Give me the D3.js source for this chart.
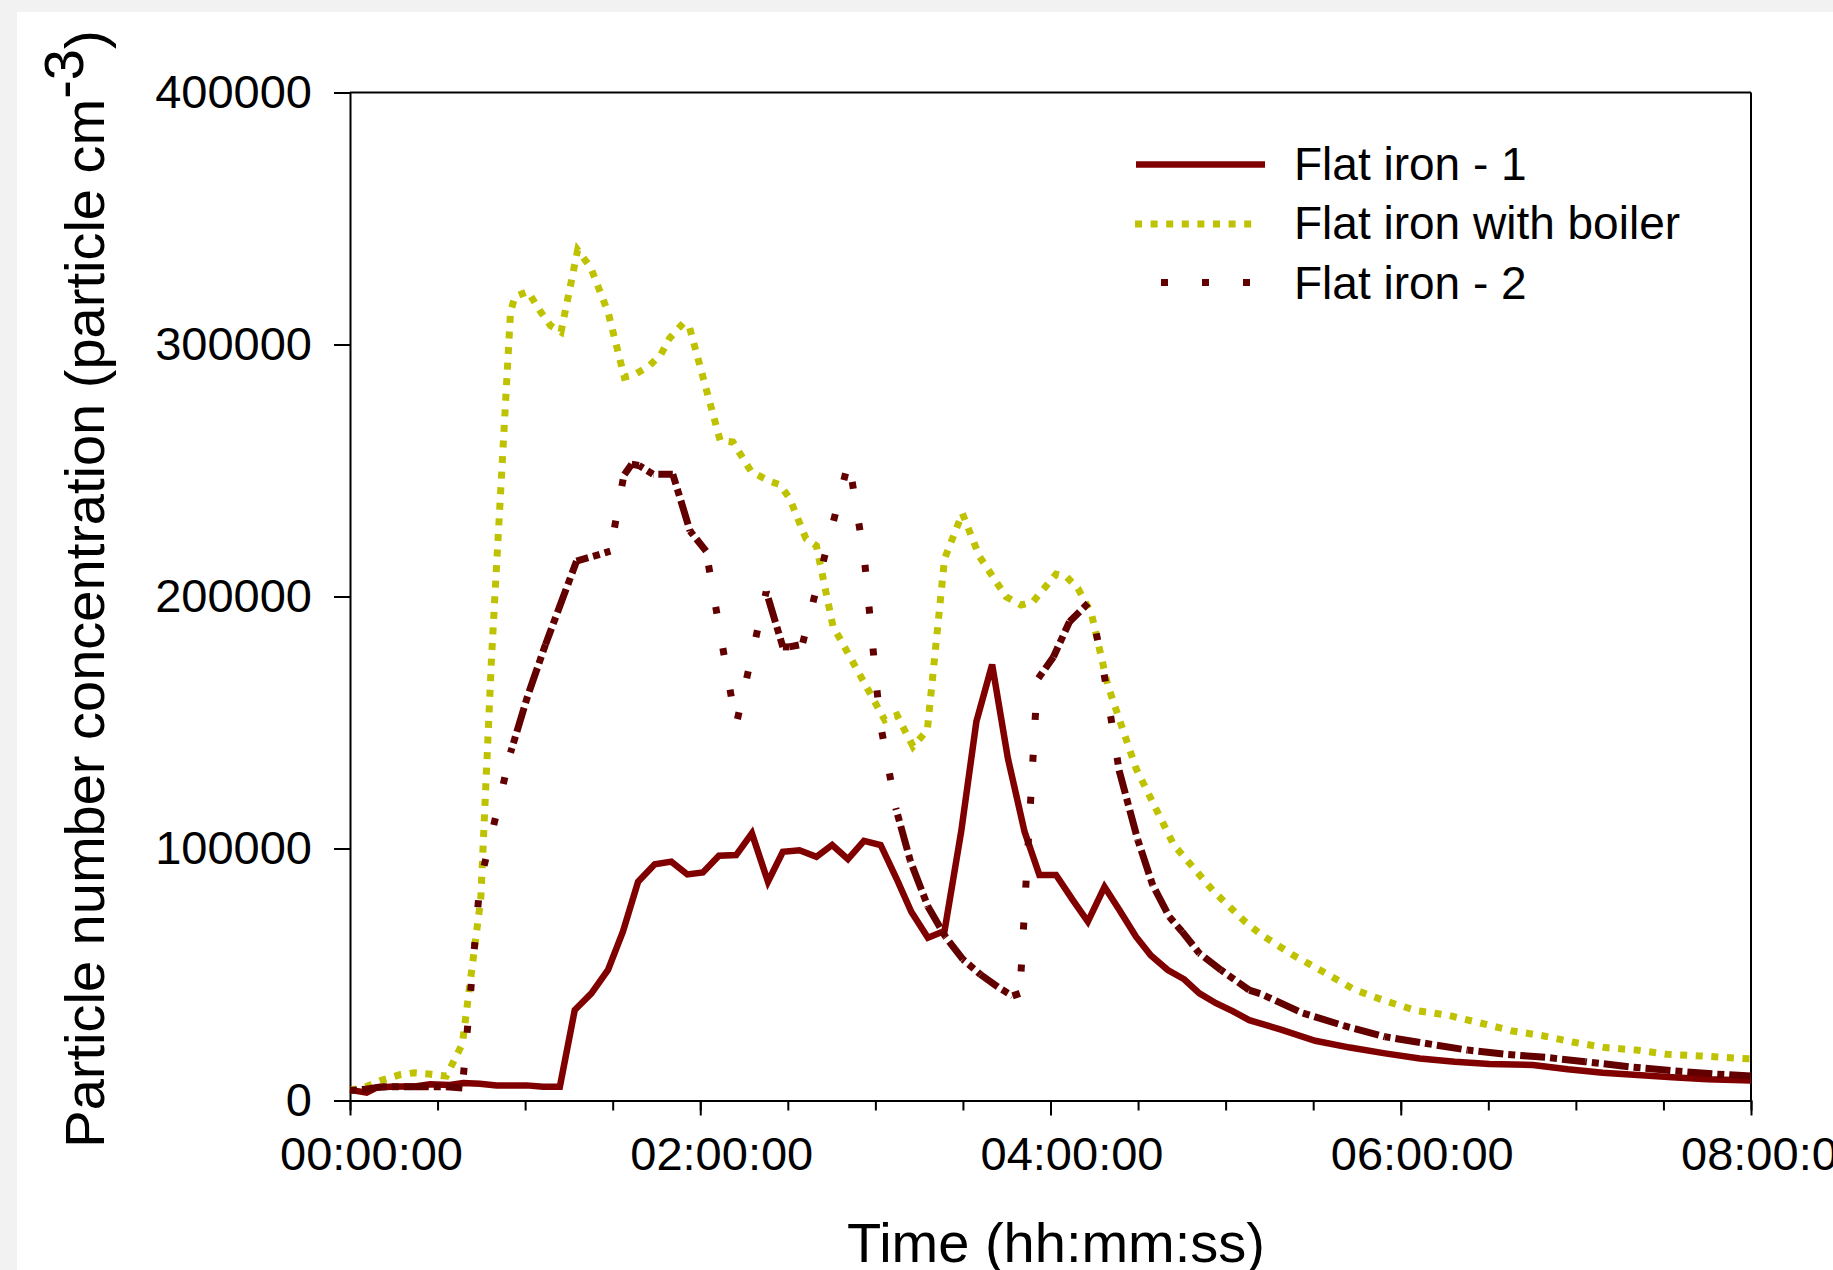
<!DOCTYPE html>
<html lang="en">
<head>
<meta charset="UTF-8">
<title>Particle number concentration</title>
<script src="https://cdn.jsdelivr.net/npm/d3@7"></script>
<style>
  body { margin: 0; background: #f2f2f2; }
  svg { display: block; }
  text { font-family: "Liberation Sans", Arial, sans-serif; fill: #000; }
</style>
</head>
<body>
<svg width="1833" height="1270"></svg>
<script>
// time in minutes from start, values in particle cm-3
var fi1Min = [0,5.7,9.1,13.7,22.8,27.4,34.2,38.8,44.5,50.2,60.5,66.2,71.9,77,82.7,88.4,93.5,98.7,104.4,110.1,
  115.6,120.9,126.4,132.3,137.7,143.2,148.3,154,159.8,165.2,170.6,176.1,181.8,187.2,192.3,198,203.7,209.4,214.6,220,
  225.4,231.1,236.2,241.9,247.6,252.8,258.5,263.6,269.3,274.4,280.2,285.8,291,296.7,302.4,308.1,318.7,330.7,342.6,354.6,
  366.5,378.5,390.4,405.3,417.2,429.2,441.1,453,465,480];
var fi1Val = [4200,3100,5100,5500,5700,6400,6200,6900,6600,6000,6000,5500,5500,35900,42500,51800,67000,86800,93700,94800,
  89700,90500,97100,97400,106000,86800,98700,99300,96700,101400,95800,103000,101400,88200,74900,64600,67300,106700,150300,173000,
  135800,106700,89500,89500,79600,71000,84800,75600,65000,57500,51800,48100,42500,38600,35500,31900,28200,23700,21000,18700,
  16700,15400,14500,14100,12400,11000,10100,9200,8400,7900];

var boilMin = [0,5.5,11,17,22,27,33,38.5,44.8,48.5,55,56.5,61,65,68.7,72.3,78,82.5,88.5,94,
  97.5,102.5,106.5,109.5,114.2,116.3,126.8,131.2,137.5,143.7,147.2,150.6,154.1,156.2,159.8,165.5,167.8,183.2,187.4,192.9,
  197.8,203.7,209.8,215.7,224.8,229.9,234,241.9,245.4,249.4,254,259.6,269.3,282.2,295.9,306.6,312.1,322.8,333.4,344.1,
  355,365.6,376.3,387.1,397.8,408.6,419.3,430.1,440.8,451.5,462.3,480];
var boilVal = [4000,5500,8100,10200,11000,10500,9700,22500,80000,176000,313000,319000,321000,313500,307500,305000,337500,330500,312500,287000,
  288000,291500,296000,302500,308500,306900,262000,261300,249500,245800,244400,239000,229000,223000,220100,188000,183400,151000,152900,140500,
  147000,215000,233000,215800,199900,196600,197900,208900,207900,203200,193300,164900,131800,101500,83000,71000,65900,57900,51100,44000,
  39400,35600,33800,30800,27700,25700,23100,21000,20000,18300,17700,16500];

var fi2Min = [0,5.5,11,22,33,38.5,44.5,50,55,61,67,77.6,89.2,93.8,96.5,99,103.8,110.6,116.5,122,
  132.3,142.6,148.3,150.5,155,170.9,176.2,181.6,187,192,198,204,210,216,222,227,229.5,235.5,241,246.5,
  253.5,258,263.5,269.9,275,280.7,285.1,291,298.4,308.1,312.1,326.2,340.4,354.6,368.3,382.9,396.3,409.8,423.2,438.1,
  453,467.9,480];
var fi2Val = [4000,4500,5500,5500,5500,5000,86000,113000,138000,161000,181000,214000,218000,248000,252500,252000,248500,248500,226000,218000,
  149000,202000,180000,180000,181000,254000,215400,150300,116000,95000,77000,65000,56000,50000,45000,41500,42500,167000,176000,190000,
  198000,172000,131000,103400,85500,72900,67000,58400,51800,43800,42300,34800,29700,25300,22700,20000,18300,17100,15400,13400,
  11800,10500,9700];

var seriesNames = ["Flat iron - 1", "Flat iron with boiler", "Flat iron - 2"];
var yTicks = [0, 100000, 200000, 300000, 400000];
var xMajor = [0, 120, 240, 360, 480];
var xTickLabels = ["00:00:00", "02:00:00", "04:00:00", "06:00:00", "08:00:00"];

var svg = d3.select("svg");
var plotL = 350, plotR = 1751, plotT = 92.5, plotB = 1100.5;

svg.append("rect").attr("x", 17).attr("y", 12).attr("width", 1816).attr("height", 1258).attr("fill", "#fff");

var x = d3.scaleLinear().domain([0, 480]).range([plotL, plotR]);
var y = d3.scaleLinear().domain([0, 400000]).range([plotB, plotT]);

function pairs(t, v) { return t.map(function(d, i) { return [x(d), y(v[i])]; }); }

// axes
var yAxis = svg.append("g").attr("transform", "translate(" + plotL + ",0)")
  .call(d3.axisLeft(y).tickValues(yTicks).tickSize(16).tickSizeOuter(0).tickPadding(22).tickFormat(d3.format("d")));
var xMinor = svg.append("g").attr("transform", "translate(0," + plotB + ")")
  .call(d3.axisBottom(x).tickValues(d3.range(0, 481, 30)).tickSize(10).tickSizeOuter(0).tickFormat(""));
var xAxis = svg.append("g").attr("transform", "translate(0," + plotB + ")")
  .call(d3.axisBottom(x).tickValues(xMajor).tickSize(15).tickSizeOuter(0).tickPadding(21)
    .tickFormat(function(d, i) { return xTickLabels[i]; }));
xAxis.selectAll("text").attr("dx", 21);
[yAxis, xMinor, xAxis].forEach(function(g) {
  g.attr("font-size", 47).attr("font-family", "Liberation Sans, Arial, sans-serif");
  g.selectAll("line").attr("stroke", "#000").attr("stroke-width", 2);
  g.selectAll("path").attr("stroke", "#000").attr("stroke-width", 2);
  g.selectAll("text").attr("fill", "#000");
});

// frame top and right
svg.append("line").attr("x1", plotL).attr("x2", plotR).attr("y1", plotT).attr("y2", plotT)
  .attr("stroke", "#000").attr("stroke-width", 2);
svg.append("line").attr("x1", plotR).attr("x2", plotR).attr("y1", plotT).attr("y2", plotB)
  .attr("stroke", "#000").attr("stroke-width", 2);

var line = d3.line();

// flat iron with boiler (dotted)
svg.append("path").attr("d", line(pairs(boilMin, boilVal)))
  .attr("fill", "none").attr("stroke", "#bec200").attr("stroke-width", 7)
  .attr("stroke-dasharray", "7,8.6");

// flat iron - 1 (solid)
svg.append("path").attr("d", line(pairs(fi1Min, fi1Val)))
  .attr("fill", "none").attr("stroke", "#800000").attr("stroke-width", 6.5);

// flat iron - 2: dash-dot, steep parts only show the dots
function dashDot(pts, color) {
  var P = 42, acc = 0, g = svg.append("g");
  for (var i = 1; i < pts.length; i++) {
    var a = pts[i - 1], b = pts[i];
    var dx = b[0] - a[0], dy = b[1] - a[1];
    var steep = Math.abs(dy) > 3.8 * Math.abs(dx);
    g.append("line")
      .attr("x1", a[0]).attr("y1", a[1]).attr("x2", b[0]).attr("y2", b[1])
      .attr("stroke", color).attr("stroke-width", 7)
      .attr("stroke-dasharray", steep ? "7,35" : "7,5,25,5")
      .attr("stroke-dashoffset", acc % P);
    acc += Math.hypot(dx, dy);
  }
}
dashDot(pairs(fi2Min, fi2Val), "#620000");

// legend
var lg = svg.append("g");
lg.append("line").attr("x1", 1136).attr("x2", 1265).attr("y1", 164.5).attr("y2", 164.5)
  .attr("stroke", "#800000").attr("stroke-width", 6.5);
lg.append("line").attr("x1", 1135).attr("x2", 1254).attr("y1", 224).attr("y2", 224)
  .attr("stroke", "#bec200").attr("stroke-width", 7).attr("stroke-dasharray", "7,8.6");
lg.append("line").attr("x1", 1161).attr("x2", 1250).attr("y1", 282.5).attr("y2", 282.5)
  .attr("stroke", "#620000").attr("stroke-width", 7).attr("stroke-dasharray", "7,34");
lg.selectAll("text").data(seriesNames).enter().append("text")
  .attr("x", 1294).attr("y", function(d, i) { return 180 + i * 59.3; })
  .attr("font-size", 46).text(function(d) { return d; });

// axis titles
svg.append("text").attr("x", 1056).attr("y", 1262).attr("text-anchor", "middle")
  .attr("font-size", 56).text("Time (hh:mm:ss)");

var yt = svg.append("text").attr("transform", "translate(104,589) rotate(-90)")
  .attr("text-anchor", "middle").attr("font-size", 56);
yt.append("tspan").text("Particle number concentration (particle cm");
yt.append("tspan").attr("dy", -21).text("-3");
yt.append("tspan").attr("dy", 21).text(")");
</script>
</body>
</html>
